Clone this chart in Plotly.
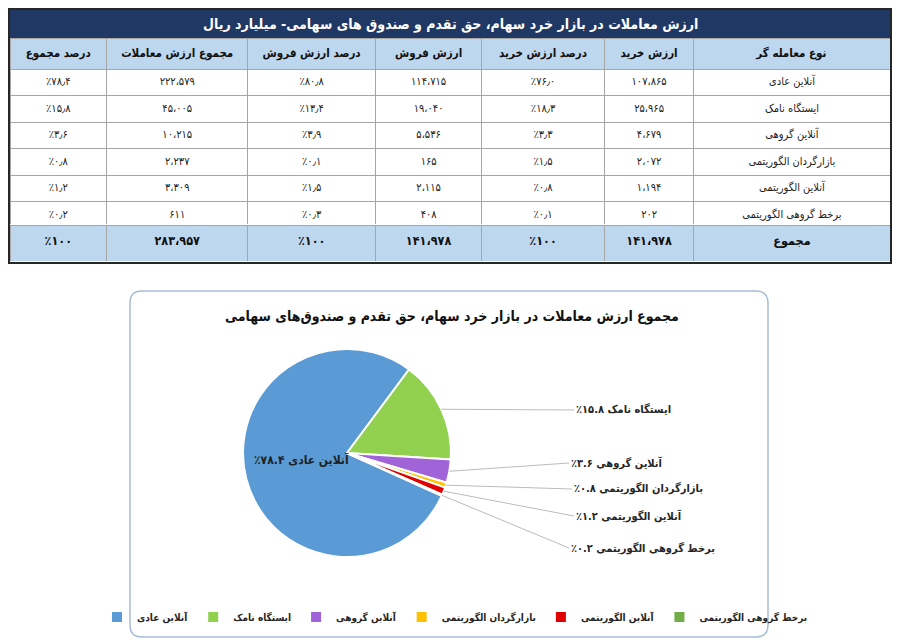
import math
import plotly.graph_objects as go

# ---------------- data ----------------
trader_types = ["آنلاین عادی", "ایستگاه نامک", "آنلاین گروهی",
                "بازارگردان الگوریتمی", "آنلاین الگوریتمی", "برخط گروهی الگوریتمی"]
buy_value = [107865, 25965, 4679, 2072, 1194, 202]
buy_pct = [76.0, 18.3, 3.3, 1.5, 0.8, 0.1]
sell_value = [114715, 19040, 5536, 165, 2115, 408]
sell_pct = [80.8, 13.4, 3.9, 0.1, 1.5, 0.3]
total_value = [222579, 45005, 10215, 2237, 3309, 611]
total_pct = [78.4, 15.8, 3.6, 0.8, 1.2, 0.2]

total_label = "مجموع"
buy_total = 141978
sell_total = 141978
grand_total = 283957
pct_total = 100

col_headers = ["درصد مجموع", "مجموع ارزش معاملات", "درصد ارزش فروش", "ارزش فروش",
               "درصد ارزش خرید", "ارزش خرید", "نوع معامله گر"]
table_title = "ارزش معاملات در بازار خرد سهام، حق تقدم و صندوق های سهامی- میلیارد ریال"
chart_title = "مجموع ارزش معاملات در بازار خرد سهام، حق تقدم و صندوق\u200cهای سهامی"

# ---------------- helpers ----------------
W, H = 900, 642
def px(x): return x / W
def py(y): return 1 - y / H

FA = str.maketrans("0123456789", "۰۱۲۳۴۵۶۷۸۹")
def fa_int(v):
    return f"{v:,}".replace(",", "،").translate(FA)
def fa_pct(v, dec="٫"):
    s = f"{v:.1f}" if isinstance(v, float) else str(v)
    return "٪" + s.replace(".", dec).translate(FA)
def fa_label(name, pct):
    return "٪" + f"{pct:.1f}".translate(FA) + " " + name

FONT = "DejaVu Sans Condensed, DejaVu Sans"
NAVY = "#1F3864"
LIGHT = "#BDD7EE"
GRID = "#A6A6A6"
COLW = [97, 142, 128, 107, 123, 90, 197]

fig = go.Figure()

# ---------------- table body ----------------
columns = [
    [fa_pct(v) for v in total_pct],
    [fa_int(v) for v in total_value],
    [fa_pct(v) for v in sell_pct],
    [fa_int(v) for v in sell_value],
    [fa_pct(v) for v in buy_pct],
    [fa_int(v) for v in buy_value],
    trader_types,
]
fig.add_trace(go.Table(
    domain=dict(x=[px(10), px(890)], y=[py(225), py(38)]),
    columnwidth=COLW,
    header=dict(values=["<b>" + h + "</b>" for h in col_headers],
                fill_color=LIGHT, line=dict(color=GRID, width=1),
                font=dict(family=FONT, size=11.5, color="#111111"),
                align="center", height=28),
    cells=dict(values=columns, fill_color="white",
               line=dict(color=GRID, width=1),
               font=dict(family=FONT, size=11, color="#222222"),
               align="center", height=26.5),
))

# ---------------- total row ----------------
totals_row = [fa_pct(pct_total), fa_int(grand_total), fa_pct(pct_total), fa_int(sell_total),
              fa_pct(pct_total), fa_int(buy_total), total_label]
fig.add_trace(go.Table(
    domain=dict(x=[px(10), px(890)], y=[py(262), py(225)]),
    columnwidth=COLW,
    header=dict(values=["<b>" + t + "</b>" for t in totals_row],
                fill_color=LIGHT, line=dict(color=GRID, width=1),
                font=dict(family=FONT, size=12.5, color="#111111"),
                align="center", height=37),
))

# ---------------- pie ----------------
colors = ["#5B9BD5", "#92D050", "#A064D8", "#FFC000", "#E00000", "#70AD47"]
PIE_CX, PIE_CY, PIE_R = 347, 453, 104
ROTATION = 114.4

fig.add_trace(go.Pie(
    labels=trader_types, values=total_value, sort=False, direction="clockwise",
    rotation=ROTATION,
    domain=dict(x=[px(PIE_CX - PIE_R), px(PIE_CX + PIE_R)],
                y=[py(PIE_CY + PIE_R), py(PIE_CY - PIE_R)]),
    marker=dict(colors=colors, line=dict(color="white", width=2)),
    textinfo="none",
    hoverinfo="label+percent",
    showlegend=True,
))

annotations = []
annotations.append(dict(x=px(450), y=py(24), xref="paper", yref="paper",
                        xanchor="center", yanchor="middle",
                        text="<b>" + table_title + "</b>", showarrow=False,
                        font=dict(family=FONT, size=14, color="white")))
annotations.append(dict(x=px(301), y=py(459), xref="paper", yref="paper",
                        xanchor="center", yanchor="middle",
                        text="<b>" + fa_label(trader_types[0], total_pct[0]) + "</b>",
                        showarrow=False,
                        font=dict(family=FONT, size=12, color="#1F1F1F")))

# outside labels with leader lines (angles computed from the data)
LABEL_POS = {1: (574, 410), 2: (569, 463), 3: (572, 489), 4: (574, 516), 5: (569, 548)}
tot = sum(total_value)
cum = 0
for i, v in enumerate(total_value):
    mid = math.radians(ROTATION + 360 * (cum + v / 2) / tot)
    cum += v
    if i not in LABEL_POS:
        continue
    ex = PIE_CX + PIE_R * math.sin(mid)
    ey = PIE_CY - PIE_R * math.cos(mid)
    lx, ly = LABEL_POS[i]
    annotations.append(dict(
        x=px(ex), y=py(ey), xref="paper", yref="paper",
        ax=lx - ex, ay=ly - ey, axref="pixel", ayref="pixel",
        xanchor="left", yanchor="middle",
        text="<b>" + fa_label(trader_types[i], total_pct[i]) + "</b>",
        showarrow=True, arrowhead=0, arrowwidth=1, arrowcolor="#BBBBBB",
        standoff=0, startstandoff=0,
        font=dict(family=FONT, size=11, color="#262626"),
    ))

annotations.append(dict(x=px(452), y=py(316), xref="paper", yref="paper",
                        xanchor="center", yanchor="middle",
                        text="<b>" + chart_title + "</b>", showarrow=False,
                        font=dict(family=FONT, size=14, color="#111111")))

# rounded chart frame
x0, y0, x1, y1, r = 130, 291, 768, 637, 12
def P(x, y): return f"{px(x)},{py(y)}"
frame_path = (f"M {P(x0 + r, y0)} L {P(x1 - r, y0)} Q {P(x1, y0)} {P(x1, y0 + r)} "
              f"L {P(x1, y1 - r)} Q {P(x1, y1)} {P(x1 - r, y1)} "
              f"L {P(x0 + r, y1)} Q {P(x0, y1)} {P(x0, y1 - r)} "
              f"L {P(x0, y0 + r)} Q {P(x0, y0)} {P(x0 + r, y0)} Z")

shapes = [
    dict(type="rect", xref="paper", yref="paper", x0=px(10), x1=px(890), y0=py(38), y1=py(10),
         fillcolor=NAVY, line=dict(width=0), layer="below"),
    dict(type="rect", xref="paper", yref="paper", x0=px(9), x1=px(891), y0=py(263), y1=py(9),
         line=dict(color="#262626", width=2)),
    dict(type="path", xref="paper", yref="paper", path=frame_path,
         line=dict(color="#A9BCD6", width=1.5)),
]

fig.update_layout(
    width=W, height=H, margin=dict(l=0, r=0, t=0, b=0),
    paper_bgcolor="white", plot_bgcolor="white",
    font=dict(family=FONT),
    shapes=shapes, annotations=annotations,
    legend=dict(orientation="h", x=px(455), xanchor="center", y=py(617), yanchor="middle",
                font=dict(family=FONT, size=10, color="#262626", weight="bold"),
                itemwidth=30, bgcolor="rgba(0,0,0,0)"),
)

fig.write_html("out.html", config={"displayModeBar": False},
               post_script="document.body.style.margin='0';")
